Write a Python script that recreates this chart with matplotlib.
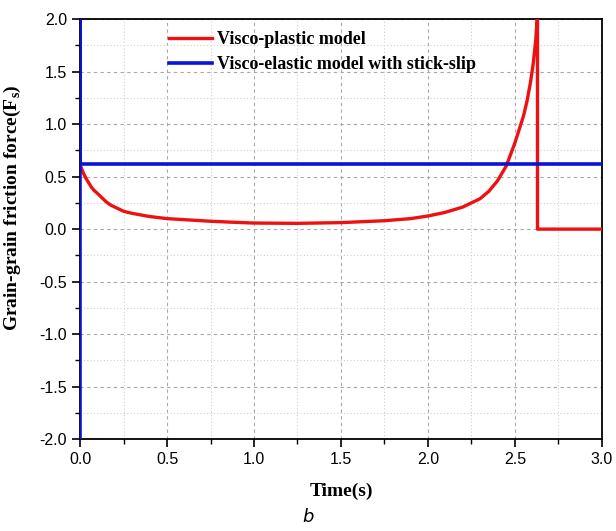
import matplotlib
matplotlib.use("Agg")
import matplotlib.pyplot as plt
from matplotlib.ticker import MultipleLocator

# Visco-plastic model response
t_plastic = [0.0, 0.01, 0.02, 0.035, 0.05, 0.065, 0.08, 0.1, 0.125, 0.15, 0.175, 0.2, 0.25,
             0.3, 0.35, 0.4, 0.5, 0.6, 0.75, 0.9, 1.0, 1.25, 1.5, 1.75, 1.9, 2.0, 2.1,
             2.2, 2.3, 2.35, 2.4, 2.45, 2.475, 2.5, 2.525, 2.55, 2.57, 2.59, 2.605,
             2.62, 2.63, 2.63, 3.0]
f_plastic = [0.61, 0.57, 0.53, 0.48, 0.44, 0.40, 0.37, 0.34, 0.30, 0.26, 0.23, 0.21, 0.17,
             0.15, 0.135, 0.12, 0.10, 0.09, 0.075, 0.064, 0.058, 0.055, 0.062, 0.08, 0.10,
             0.125, 0.16, 0.21, 0.29, 0.36, 0.46, 0.60, 0.71, 0.82, 0.95, 1.08, 1.22, 1.40,
             1.57, 1.80, 2.05, 0.0, 0.0]

# Visco-elastic model with stick-slip
t_elastic = [0.0, 0.0, 0.0, 3.0]
f_elastic = [-2.5, 2.5, 0.62, 0.62]

x_ticks = [0.0, 0.5, 1.0, 1.5, 2.0, 2.5, 3.0]
y_ticks = [-2.0, -1.5, -1.0, -0.5, 0.0, 0.5, 1.0, 1.5, 2.0]

fig = plt.figure(figsize=(6.16, 5.31), dpi=100)
ax = fig.add_axes([0.130, 0.173, 0.847, 0.791])

ax.plot(t_plastic, f_plastic, color="#ee1111", lw=2.4, label="Visco-plastic model",
        zorder=3, solid_joinstyle="round")
ax.plot(t_elastic, f_elastic, color="#0a14d8", lw=2.6,
        label="Visco-elastic model with stick-slip", zorder=4)

ax.set_xlim(0, 3.0)
ax.set_ylim(-2.0, 2.0)
ax.set_xticks(x_ticks)
ax.set_yticks(y_ticks)
ax.set_xticklabels([f"{v:.1f}" for v in x_ticks])
ax.set_yticklabels([f"{v:.1f}" for v in y_ticks])
ax.xaxis.set_minor_locator(MultipleLocator(0.25))
ax.yaxis.set_minor_locator(MultipleLocator(0.25))

ax.grid(which="major", color="#a8a8a8", linestyle=(0, (3, 3)), lw=0.8)
ax.grid(which="minor", color="#cfcfcf", linestyle=(0, (1, 2)), lw=0.8)
ax.set_axisbelow(True)

ax.tick_params(which="major", direction="out", length=6, width=1.2,
               labelsize=11.5, colors="black")
ax.tick_params(which="minor", direction="out", length=3.5, width=1.0)
for lbl in ax.get_xticklabels() + ax.get_yticklabels():
    lbl.set_family("Liberation Sans")
for s in ax.spines.values():
    s.set_linewidth(1.3)

ax.set_xlabel("Time(s)", family="Liberation Serif", fontweight="bold", fontsize=14)
ax.xaxis.set_label_coords(0.5, -0.103)
ax.set_ylabel(r"Grain-grain friction force(F$_\mathregular{s}$)", family="Liberation Serif",
              fontweight="bold", fontsize=14)
ax.yaxis.set_label_coords(-0.11, 0.55)

leg = ax.legend(loc="upper left", bbox_to_anchor=(0.163, 0.98), frameon=False,
                prop={"family": "Liberation Serif", "weight": "bold", "size": 13},
                handlelength=2.4, handletextpad=0.25, labelspacing=0.45,
                borderpad=0.2, borderaxespad=0.0)

fig.text(0.5, 0.01, "b", family="DejaVu Sans", style="italic", fontsize=13,
         ha="center", va="bottom")

fig.savefig("out.png", dpi=100)
